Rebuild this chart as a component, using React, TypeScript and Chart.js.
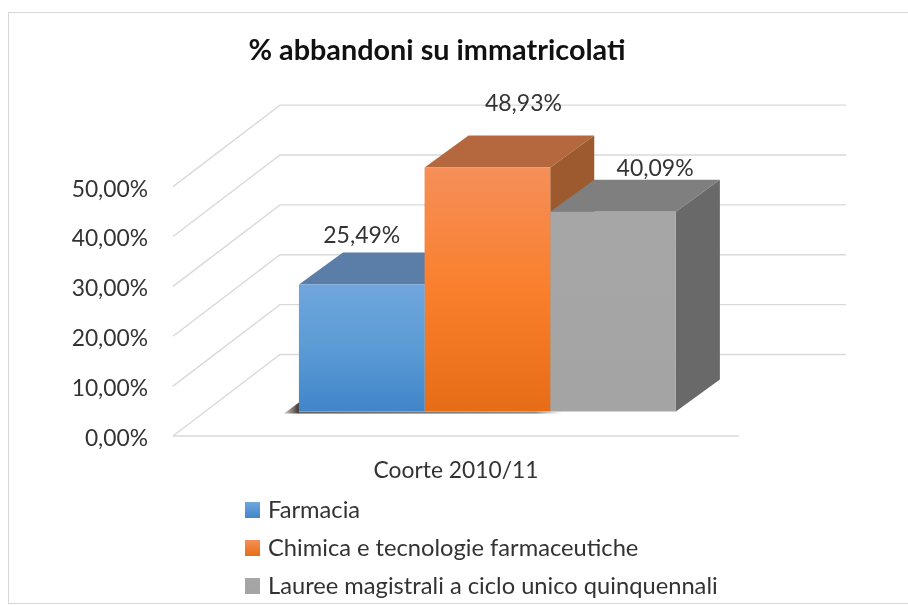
import React, { useEffect, useRef } from "react";
import { Chart, registerables } from "chart.js";

Chart.register(...registerables);

const categories = ["Coorte 2010/11"];
const seriesNames = ["Farmacia", "Chimica e tecnologie farmaceutiche", "Lauree magistrali a ciclo unico quinquennali"];
const farmacia = [25.49];
const chimica = [48.93];
const lauree = [40.09];
const chartTitle = "% abbandoni su immatricolati";

const fontFamily = "Lato, 'Noto Sans', sans-serif";
const textColor = "#333333";
const gridColor = "#d9d9d9";

const frontStops = [
  ["#70a6dd", "#5b9bd5", "#4185c9"],
  ["#f58f58", "#fa7f2c", "#e66d16"],
  ["#a6a6a6", "#a5a5a5", "#a4a4a4"],
];
const topColors = ["#5a7ea8", "#b5683e", "#7f7f7f"];
const sideColors = ["#4a6d93", "#9d5a2e", "#696969"];
const labelOffsets = [[0, -49], [36, -64], [42, -43]];

// wall depth of the box, and how far into it the bars stand
const wallDepth = { x: 107, y: -81.5 };
const barShift = { x: 31.4, y: -24.4 };
const barDepth = { x: 44, y: -32 };

const fmt = (v: number) => v.toFixed(2).replace(".", ",") + "%";

const depthPlugin = {
  id: "depth",
  afterLayout(chart: any) {
    // the title sits left of the plot's centre in the reference
    chart.titleBlock.left = 0;
    chart.titleBlock.right = 874;
  },
  beforeDatasetsDraw(chart: any) {
    const { ctx, chartArea, scales } = chart;
    ctx.save();
    ctx.strokeStyle = gridColor;
    ctx.lineWidth = 1.4;
    scales.y.ticks.forEach((t: any) => {
      const y = scales.y.getPixelForValue(t.value);
      ctx.beginPath();
      ctx.moveTo(chartArea.left, y);
      ctx.lineTo(chartArea.left + wallDepth.x, y + wallDepth.y);
      ctx.lineTo(chartArea.right + wallDepth.x, y + wallDepth.y);
      ctx.stroke();
    });
    ctx.beginPath();
    ctx.moveTo(chartArea.left, chartArea.bottom);
    ctx.lineTo(chartArea.right, chartArea.bottom);
    ctx.stroke();

    ctx.translate(barShift.x, barShift.y);
    const bars = chart.data.datasets.map((_: any, i: number) => chart.getDatasetMeta(i).data[0]);
    const firstLeft = bars[0].x - bars[0].width / 2;
    const base = bars[0].base;
    const g = ctx.createLinearGradient(firstLeft - 15, 0, firstLeft, 0);
    g.addColorStop(0, "rgba(90,80,75,0.3)");
    g.addColorStop(1, "rgba(60,50,45,1)");
    ctx.fillStyle = g;
    ctx.beginPath();
    ctx.moveTo(firstLeft - 15, base + 2);
    ctx.lineTo(firstLeft, base - 9);
    ctx.lineTo(firstLeft, base + 2);
    ctx.closePath();
    ctx.fill();
    const stripEnd = bars[1].x + bars[1].width / 2 + 12;
    const s = ctx.createLinearGradient(firstLeft, 0, stripEnd, 0);
    s.addColorStop(0, "rgba(80,80,80,0.9)");
    s.addColorStop(0.9, "rgba(110,110,110,0.8)");
    s.addColorStop(1, "rgba(150,150,150,0)");
    ctx.fillStyle = s;
    ctx.fillRect(firstLeft, base, stripEnd - firstLeft, 2);

    bars.forEach((b: any, i: number) => {
      const l = b.x - b.width / 2;
      const r = b.x + b.width / 2;
      ctx.fillStyle = topColors[i];
      ctx.beginPath();
      ctx.moveTo(l, b.y);
      ctx.lineTo(l + barDepth.x, b.y + barDepth.y);
      ctx.lineTo(r + barDepth.x, b.y + barDepth.y);
      ctx.lineTo(r, b.y);
      ctx.closePath();
      ctx.fill();
      ctx.fillStyle = sideColors[i];
      ctx.beginPath();
      ctx.moveTo(r, b.y);
      ctx.lineTo(r + barDepth.x, b.y + barDepth.y);
      ctx.lineTo(r + barDepth.x, b.base + barDepth.y);
      ctx.lineTo(r, b.base);
      ctx.closePath();
      ctx.fill();
    });
    ctx.restore();
  },
  beforeDatasetDraw(chart: any) {
    chart.ctx.save();
    chart.ctx.translate(barShift.x, barShift.y);
  },
  afterDatasetDraw(chart: any) {
    chart.ctx.restore();
  },
  afterDatasetsDraw(chart: any) {
    const { ctx } = chart;
    ctx.save();
    ctx.font = `23px ${fontFamily}`;
    ctx.fillStyle = textColor;
    ctx.textAlign = "center";
    ctx.textBaseline = "middle";
    chart.data.datasets.forEach((d: any, i: number) => {
      const b = chart.getDatasetMeta(i).data[0];
      ctx.fillText(
        fmt(d.data[0]),
        b.x + barShift.x + labelOffsets[i][0],
        b.y + barShift.y + labelOffsets[i][1]
      );
    });
    ctx.restore();
  },
  afterDraw(chart: any) {
    const { ctx } = chart;
    ctx.save();
    ctx.font = `23.7px ${fontFamily}`;
    ctx.textBaseline = "middle";
    chart.data.datasets.forEach((d: any, i: number) => {
      const y = 510 + i * 38;
      const g = ctx.createLinearGradient(0, y - 8, 0, y + 8);
      g.addColorStop(0, frontStops[i][0]);
      g.addColorStop(1, frontStops[i][2]);
      ctx.fillStyle = g;
      ctx.fillRect(245, y - 8, 15, 16);
      ctx.fillStyle = textColor;
      ctx.fillText(d.label, 268, y);
    });
    ctx.restore();
  },
};

const frontFill = (i: number) => (c: any) => {
  const { chart } = c;
  const y = chart.scales.y;
  if (!y) return frontStops[i][1];
  const top = y.getPixelForValue(chart.data.datasets[i].data[0]);
  const bottom = y.getPixelForValue(0);
  if (!Number.isFinite(top) || !Number.isFinite(bottom)) return frontStops[i][1];
  const g = chart.ctx.createLinearGradient(0, top, 0, bottom);
  g.addColorStop(0, frontStops[i][0]);
  g.addColorStop(0.5, frontStops[i][1]);
  g.addColorStop(1, frontStops[i][2]);
  return g;
};

export default function App() {
  const ref = useRef<HTMLCanvasElement>(null);
  useEffect(() => {
    const chart = new Chart(ref.current as HTMLCanvasElement, {
      type: "bar",
      data: {
        labels: categories,
        datasets: [farmacia, chimica, lauree].map((data, i) => ({
          label: seriesNames[i],
          data,
          backgroundColor: frontFill(i),
          borderWidth: 0,
          clip: false,
          categoryPercentage: 0.666,
          barPercentage: 1,
        })),
      },
      plugins: [depthPlugin],
      options: {
        responsive: false,
        animation: false,
        layout: { padding: { left: 15, right: 169, top: 0, bottom: 0 } },
        plugins: {
          legend: { display: false },
          tooltip: { enabled: false },
          title: {
            display: true,
            text: chartTitle,
            color: "#111111",
            font: { family: fontFamily, size: 28.8, weight: "bold", lineHeight: 1.2 },
            padding: { top: 33, bottom: 119.1 },
          },
        },
        scales: {
          x: {
            grid: { display: false },
            border: { display: false },
            ticks: { color: textColor, font: { family: fontFamily, size: 22.8 }, padding: 13 },
            afterFit: (s: any) => { s.height = 170; },
          },
          y: {
            min: 0,
            max: 50,
            grid: { display: false },
            border: { display: false },
            ticks: {
              stepSize: 10,
              color: textColor,
              font: { family: fontFamily, size: 22.8, lineHeight: "5px" },
              padding: 17,
              // the empty first line nudges the label down onto its reference baseline
              callback: (v: any) => ["", fmt(Number(v))],
            },
            afterFit: (s: any) => { s.width = 158; },
          },
        },
      },
    } as any);
    return () => chart.destroy();
  }, []);
  return (
    <div style={{ position: "fixed", left: 0, top: 0, width: 908, height: 606, background: "#fff", overflow: "hidden" }}>
      <canvas ref={ref} width={908} height={606} style={{ position: "absolute", left: 0, top: 0, display: "block", filter: "blur(0.4px)" }} />
      <div style={{ position: "absolute", left: 8, top: 12, right: -2, bottom: 2, boxSizing: "border-box", borderLeft: "1px solid #d6d6d6", borderTop: "1px solid #d6d6d6", borderBottom: "1px solid #d6d6d6", pointerEvents: "none" }} />
    </div>
  );
}
